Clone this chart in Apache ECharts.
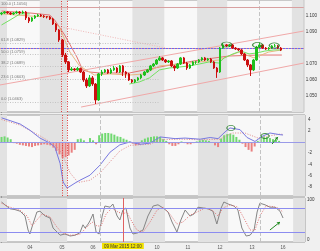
<!DOCTYPE html>
<html><head><meta charset="utf-8">
<script src="https://cdn.jsdelivr.net/npm/echarts@6/dist/echarts.min.js"></script>
<style>html,body{margin:0;padding:0;background:#f0f0f0}#c{width:320px;height:251px}</style>
</head><body><div id="c"></div>
<script>
// ---- price candles (bar index 0..92) ----
const opens = [1.1013,1.1019,1.1025,1.1019,1.1013,1.1019,1.1025,1.1019,1.1025,1.0988,
1.0969,1.0988,1.1000,1.1006,1.1000,1.0996,1.0994,1.0981,1.0950,1.0913,
1.0850,1.0756,1.0713,1.0663,1.0669,1.0663,1.0672,1.0650,1.0600,1.0563,
1.0613,1.0575,1.0475,1.0638,1.0650,1.0663,1.0644,1.0663,1.0675,1.0650,
1.0688,1.0650,1.0638,1.0600,1.0588,1.0600,1.0613,1.0631,1.0650,1.0663,
1.0688,1.0700,1.0725,1.0738,1.0725,1.0713,1.0719,1.0688,1.0675,1.0700,
1.0738,1.0706,1.0675,1.0694,1.0713,1.0713,1.0725,1.0738,1.0725,1.0731,
1.0713,1.0675,1.0650,1.0800,1.0819,1.0813,1.0819,1.0800,1.0794,1.0788,
1.0763,1.0725,1.0694,1.0663,1.0725,1.0806,1.0819,1.0800,1.0794,1.0800,
1.0813,1.0813,1.0800];
const closes = [1.1019,1.1025,1.1019,1.1013,1.1019,1.1025,1.1019,1.1025,1.0988,1.0969,
1.0988,1.1000,1.1006,1.1000,1.0996,1.0994,1.0981,1.0950,1.0913,1.0850,
1.0756,1.0713,1.0663,1.0669,1.0663,1.0672,1.0650,1.0600,1.0563,1.0613,
1.0575,1.0475,1.0638,1.0650,1.0663,1.0644,1.0663,1.0675,1.0650,1.0688,
1.0650,1.0638,1.0600,1.0588,1.0600,1.0613,1.0631,1.0650,1.0663,1.0688,
1.0700,1.0725,1.0738,1.0725,1.0713,1.0719,1.0688,1.0675,1.0700,1.0738,
1.0706,1.0675,1.0694,1.0713,1.0713,1.0725,1.0738,1.0725,1.0731,1.0713,
1.0675,1.0650,1.0800,1.0819,1.0813,1.0819,1.0800,1.0794,1.0788,1.0763,
1.0725,1.0694,1.0663,1.0725,1.0806,1.0819,1.0800,1.0794,1.0800,1.0813,
1.0813,1.0800,1.0788];
const lows = [1.1005,1.1013,1.1013,1.1006,1.1006,1.1013,1.1010,1.1013,1.0975,1.0956,
1.0963,1.0981,1.0994,1.0994,1.0988,1.0985,1.0975,1.0944,1.0900,1.0838,
1.0744,1.0700,1.0650,1.0656,1.0656,1.0656,1.0644,1.0588,1.0550,1.0556,
1.0563,1.0450,1.0469,1.0625,1.0644,1.0638,1.0638,1.0656,1.0644,1.0644,
1.0625,1.0613,1.0594,1.0581,1.0581,1.0594,1.0606,1.0625,1.0644,1.0656,
1.0681,1.0694,1.0719,1.0719,1.0706,1.0706,1.0681,1.0656,1.0669,1.0694,
1.0700,1.0663,1.0669,1.0688,1.0700,1.0706,1.0719,1.0719,1.0719,1.0706,
1.0669,1.0613,1.0644,1.0794,1.0806,1.0806,1.0794,1.0788,1.0781,1.0756,
1.0719,1.0681,1.0625,1.0656,1.0719,1.0800,1.0794,1.0788,1.0788,1.0794,
1.0806,1.0794,1.0781];
const highs = [1.1025,1.1031,1.1031,1.1025,1.1025,1.1033,1.1031,1.1034,1.1031,1.0994,
1.0994,1.1006,1.1013,1.1013,1.1006,1.1000,1.1000,1.0988,1.0956,1.0919,
1.0856,1.0769,1.0719,1.0681,1.0675,1.0681,1.0678,1.0656,1.0613,1.0631,
1.0625,1.0581,1.0644,1.0663,1.0669,1.0669,1.0675,1.0688,1.0681,1.0694,
1.0694,1.0656,1.0644,1.0606,1.0606,1.0619,1.0638,1.0656,1.0669,1.0694,
1.0706,1.0731,1.0750,1.0744,1.0731,1.0725,1.0725,1.0694,1.0706,1.0744,
1.0744,1.0713,1.0700,1.0719,1.0719,1.0731,1.0744,1.0744,1.0738,1.0738,
1.0719,1.0681,1.0806,1.0831,1.0825,1.0825,1.0825,1.0806,1.0800,1.0794,
1.0769,1.0731,1.0700,1.0731,1.0813,1.0831,1.0825,1.0806,1.0806,1.0819,
1.0825,1.0819,1.0806];

// ---- moving averages [barIndex, price] ----
const maGreenA = [[0,1.0944],[2.8,1.0975],[6.1,1.1013],[9.3,1.1013]];
const maGreenB = [[42.1,1.0575],[45.4,1.0588],[48.7,1.0613],[52,1.0663],[55.2,1.0675],[58.5,1.0681],[61.8,1.0688],[65.1,1.0700],[68.4,1.0713],[71.6,1.0706],[73.3,1.0738],[76.2,1.0763],[78.8,1.0781],[81.5,1.0763],[84.1,1.0769],[86.7,1.0781],[89.7,1.0788],[92.3,1.0788]];
const maOrange = [[0,1.1013],[9.3,1.1000],[15.9,1.0994],[19.2,1.0925],[22.5,1.0775],[25.7,1.0688],[30.6,1.0631],[35.6,1.0638],[42.1,1.0631],[47,1.0638],[52,1.0688],[58.5,1.0700],[65.1,1.0713],[71.6,1.0725],[78.2,1.0775],[83.1,1.0738],[88,1.0775],[92.3,1.0788]];
const maRed = [[0,1.1031],[9.3,1.1019],[15.9,1.1006],[17.5,1.0975],[20.8,1.0881],[24.8,1.0744],[26.7,1.0663],[29,1.0650],[32.3,1.0644],[42.1,1.0644],[52,1.0681],[65.1,1.0725],[74.9,1.0750],[84.7,1.0756],[92.3,1.0756]];

// ---- drawn objects (bar index, price) ----
const fibPct = ['100.0','61.8','50.0','38.2','23.6','0.0'];
const fibLevels = [1.1056,1.0829,1.0759,1.0689,1.0603,1.0463];
const channelUpper = [[-0.5,1.0569],[99.5,1.0906]];
const channelLower = [[26.2,1.0431],[99.5,1.0706]];
const trendDiag = [[18,1.0938],[54,1.0800]];
const blueLevel = 1.0819;
const redDotLevel = 1.0800;
const priceCircles = [[74.1,1.0822],[84.3,1.0819],[89.8,1.0816]];

// ---- MACD panel ----
const macdHist = [0.9,1.0,0.8,0.5,-0.2,-0.3,-0.5,-0.6,-0.7,-0.8,
-0.9,-0.7,-0.6,-0.5,-0.4,-0.5,-0.6,-1.0,-1.6,-2.2,
-2.8,-2.7,-2.4,-1.9,-1.4,0.5,0.6,0.3,-0.2,0.7,
0.3,-0.4,1.2,1.5,1.6,1.6,1.5,1.3,1.0,0.9,
0.6,0.4,0.1,-0.3,-0.6,-0.5,0.3,0.6,0.8,0.9,
1.0,1.0,0.9,0.5,0.2,-0.4,-0.7,-0.7,-0.4,0.1,
-0.2,-0.4,-0.4,-0.2,0.1,0.3,0.4,0.3,0.2,-0.1,
-0.6,-0.9,0.6,1.2,1.4,1.5,1.3,0.9,0.4,-0.3,
-0.9,-1.4,-1.7,-0.8,0.2,0.8,1.0,0.9,0.7,0.5,
0.4,0.2,-0.1];
const macdLine = [[0,4.3],[2.8,3.8],[6.1,3.2],[9.3,2.1],[12.6,0.7],[15.9,-0.2],[17.5,-0.9],[19.2,-3.8],[20.2,-7.1],[21.5,-8.2],[24.1,-7.3],[25.7,-6.8],[29,-5.9],[32.3,-4.1],[35.6,-1.8],[38.8,-0.5],[42.1,0],[45.4,-0.4],[48.7,-0.2],[52,0.9],[56.9,0.6],[60.2,0.7],[65.1,0.5],[68.4,0.8],[71,0.6],[73.3,1.8],[74.9,2.5],[78.2,2.2],[80.5,0.8],[83.1,0.1],[85.4,1.0],[88,1.6],[91.3,1.3],[92.3,1.25]];
const macdSignal = [[0,4.0],[6.1,3.0],[12.6,1.1],[17.5,-0.5],[19.8,-2.0],[22.5,-5.5],[25.1,-7.2],[29,-6.8],[32.3,-5.5],[35.6,-3.5],[38.8,-1.6],[42.1,-0.6],[48.7,-0.4],[52,0.4],[58.5,0.5],[65.1,0.4],[71.6,0.5],[75.6,1.6],[79.8,1.6],[84.1,0.7],[88,1.1],[91.3,1.4],[92.3,1.35]];
const macdTicks = [4,2,-2,-4,-6,-8];
const macdCircles = [[75.2,2.5],[86.4,1.07]];
const macdArrow = [[88.7,-0.36],[90.6,0.9]];

// ---- Stochastic panel ----
const stochK = [[0,95],[1.1,88],[2.8,78],[4.4,76],[6.1,72],[7.7,60],[8.7,25],[9.3,15],[10.3,40],[11.6,70],[12.6,72],[14.3,60],[15.9,55],[16.9,30],[18.2,20],[19.2,12],[20.8,15],[22.5,10],[24.1,12],[25.7,18],[26.7,38],[27.4,30],[28.4,40],[29,48],[30,65],[31,20],[32,15],[33,60],[33.9,85],[35.6,82],[36.5,90],[37.9,60],[38.8,50],[39.8,75],[40.8,80],[42.1,30],[43.1,15],[44.7,18],[46.4,25],[48,60],[49.7,85],[51.3,88],[53,80],[54.6,70],[55.9,45],[57.5,20],[58.8,50],[60.2,75],[61.8,60],[63.1,65],[64.4,82],[66.1,80],[67.7,78],[69.3,72],[70.6,40],[72,80],[72.9,95],[74.3,90],[76.2,85],[77.5,75],[78.8,30],[80.2,10],[81.5,12],[82.8,25],[83.8,70],[84.7,92],[86.4,88],[88,82],[89.7,82],[91.3,72],[92.3,55]];
const stochD = [[0,92],[2.8,82],[6.1,74],[8.4,60],[10,35],[11.6,50],[13.3,65],[15.9,58],[17.9,35],[19.8,18],[22.5,12],[25.7,14],[27.7,30],[29.7,45],[31.3,35],[32.6,35],[34.3,65],[36.2,80],[38.2,70],[39.8,65],[41.1,70],[42.8,45],[44.4,25],[46.4,20],[48.7,45],[51,75],[53,82],[55.2,65],[57.5,40],[59.5,45],[61.8,62],[64.1,70],[66.7,80],[69,75],[71,60],[72.6,80],[74.9,88],[77.5,82],[79.8,50],[81.5,25],[83.1,25],[84.7,60],[86.7,85],[88.7,84],[90.6,80],[92.3,70]];
const stochLevels = [80,20];
const stochArrow = [[88,25],[91.3,45]];

// ---- time axis ----
const dayTicks = [9.3,19.8,30,51,61.1,71.6,82.1,92.3];
const dayLabels = ['04','05','06','10','11','12','13','16'];
const crossTime = 39.8;
const crossLabel = '09 Mar 2015 12:00';
const crossBars = [19.8,21.5];
const sessionLines = [32.3,84.7];
const bandStarts = [-0.5,12.6,43.1,64.4,95.6];
const bandEnds = [1.8,21.5,53.6,74.3,99.5];
const priceTicks = [1.05,1.06,1.07,1.09,1.10];

const chart = echarts.init(document.getElementById('c'));
const N = 100;
const cats = Array.from({length:N},(_,i)=>String(i));
const candleData = opens.map((o,i)=>[o,closes[i],lows[i],highs[i]]);
const font = 'Liberation Sans';
const bandPairs = bandStarts.map((s,i)=>[{xAxis:s},{xAxis:bandEnds[i]}]);

function bg(xi, yi, extraLines){
  return {type:'line', xAxisIndex:xi, yAxisIndex:yi, data:[], silent:true, z:0,
    markArea:{silent:true, itemStyle:{color:'#e2e2e2'}, data:bandPairs},
    markLine:{silent:true, symbol:'none', animation:false,
      data: sessionLines.map(v=>({xAxis:v, lineStyle:{color:'#c4c4c4', type:'dashed', width:1}, label:{show:false}})).concat(extraLines||[])}};
}
function tag(v, text, bgc, bd){
  return {yAxis:v, lineStyle:{opacity:0}, label:{show:true, position:'end', formatter:text, backgroundColor:bgc,
    borderColor:bd||bgc, borderWidth:0.6, padding:[1,1,0,1], fontSize:4.5, color:'#222', distance:2, fontFamily:font}};
}
function line(xi, yi, data, color, width, type, z){
  return {type:'line', xAxisIndex:xi, yAxisIndex:yi, data:data, symbol:'none', silent:true, z:z||3,
    lineStyle:{color:color, width:width, type:type||'solid'}};
}
const vRed = crossBars.map(v=>({xAxis:v, lineStyle:{color:'#e04040', type:[1,1.5], width:1}, label:{show:false}}));

const fibLines = fibLevels.map((lv,i)=>[
  {coord:[-0.5,lv], lineStyle:{color: i===0?'#d8a0a0':'#c4c4c4', type: i===0?'solid':[1,1.5], width:1},
   label:{show:true, position:'insideStartTop', formatter: fibPct[i]+' ('+lv.toFixed(4)+')', fontSize:4, color:'#777', fontFamily:font, distance:1}},
  {coord:[i===0?99.5:52, lv]}]);

const option = {
  animation:false,
  backgroundColor:'#f0f0f0',
  textStyle:{fontFamily:font},
  grid:[
    {left:0, right:15, top:0, height:112, show:true, backgroundColor:'#f8f8f8', borderColor:'#999', borderWidth:1},
    {left:0, right:15, top:115, height:81, show:true, backgroundColor:'#f8f8f8', borderColor:'#999', borderWidth:1},
    {left:0, right:15, top:198, height:44, show:true, backgroundColor:'#f8f8f8', borderColor:'#999', borderWidth:1}
  ],
  xAxis:[
    {type:'category', gridIndex:0, data:cats, show:false, boundaryGap:true},
    {type:'value', gridIndex:0, min:-0.5, max:99.5, show:false},
    {type:'category', gridIndex:1, data:cats, show:false, boundaryGap:true},
    {type:'value', gridIndex:1, min:-0.5, max:99.5, show:false},
    {type:'value', gridIndex:2, min:-0.5, max:99.5, splitLine:{show:false}, axisLine:{show:false}, axisTick:{show:false},
      axisLabel:{customValues:dayTicks, formatter:(v)=>{const k=dayTicks.indexOf(v); return k>=0?dayLabels[k]:'';}, fontSize:4.5, color:'#555', margin:3}}
  ],
  yAxis:[
    {type:'value', gridIndex:0, position:'right', min:1.04, max:1.11, splitLine:{show:false},
      axisLine:{show:true, lineStyle:{color:'#555'}}, axisTick:{show:true, length:2, customValues:priceTicks, lineStyle:{color:'#555'}},
      axisLabel:{customValues:priceTicks, formatter:(v)=>v.toFixed(3), fontSize:4.5, color:'#333', margin:2}},
    {type:'value', gridIndex:1, position:'right', min:-9.6, max:4.8, splitLine:{show:false},
      axisLine:{show:true, lineStyle:{color:'#555'}}, axisTick:{show:true, length:2, customValues:macdTicks, lineStyle:{color:'#555'}},
      axisLabel:{customValues:macdTicks, fontSize:4.5, color:'#333', margin:3}},
    {type:'value', gridIndex:2, position:'right', min:-5, max:105, splitLine:{show:false},
      axisLine:{show:true, lineStyle:{color:'#555'}}, axisTick:{show:true, length:2, customValues:[0,100], lineStyle:{color:'#555'}},
      axisLabel:{customValues:[0,100], fontSize:4.5, color:'#333', margin:2}}
  ],
  series:[
    // price panel
    bg(1,0,vRed),
    {type:'line', xAxisIndex:1, yAxisIndex:0, data:[], silent:true, z:2,
      markLine:{silent:true, symbol:'none', data: fibLines.concat([
        {yAxis:blueLevel, lineStyle:{color:'#6a6af0', width:1, type:'solid'}, label:{show:false}},
        {yAxis:redDotLevel, lineStyle:{color:'#ec8a8a', width:1, type:[1,2]}, label:{show:false}}
      ])}},
    line(1,0,channelUpper,'#f0a8a8',1),
    line(1,0,channelLower,'#f0a8a8',1),
    line(1,0,trendDiag,'#f0b8b8',1,[1,1.5]),
    line(1,0,maRed,'#e47474',1),
    line(1,0,maOrange,'#e8b882',1),
    line(1,0,maGreenA,'#74e062',1),
    line(1,0,maGreenB,'#74e062',1),
    {type:'candlestick', xAxisIndex:0, yAxisIndex:0, data:candleData, barWidth:2, z:5, silent:true,
      itemStyle:{color:'#1fc01f', color0:'#cc1010', borderColor:'#1fc01f', borderColor0:'#cc1010', borderWidth:1},
      markLine:{silent:true, symbol:'none', data:[
        tag(fibLevels[0], fibLevels[0].toFixed(4), '#f2e200'),
        tag(closes[closes.length-1], closes[closes.length-1].toFixed(4), '#f0a830'),
        tag(maRed[maRed.length-1][1]-0.0006, (maRed[maRed.length-1][1]-0.0006).toFixed(4), '#ffffff', '#e07070')
      ]}},
    {type:'scatter', xAxisIndex:1, yAxisIndex:0, data:priceCircles, symbol:'circle', symbolSize:[10,5], z:6, silent:true,
      itemStyle:{color:'rgba(0,0,0,0)', borderColor:'#1f7a1f', borderWidth:1}},
    // MACD panel
    bg(3,1,vRed.concat([{yAxis:0, lineStyle:{color:'#9a9ae8', width:1, type:'solid'}, label:{show:false}}])),
    {type:'bar', xAxisIndex:2, yAxisIndex:1, data:macdHist, barWidth:2, z:3, silent:true,
      itemStyle:{color:(p)=>p.value>=0?'#70d870':'#ea8080'},
      markLine:{silent:true, symbol:'none', data:[
        tag(macdHist[macdHist.length-1], macdHist[macdHist.length-1].toFixed(4), '#fbe0e0', '#e07070')]}},
    line(3,1,macdSignal,'#e08a8a',1,[1,1.5],4),
    {type:'line', xAxisIndex:3, yAxisIndex:1, data:macdLine, symbol:'none', silent:true, z:4,
      lineStyle:{color:'#7878e0', width:1},
      markLine:{silent:true, symbol:'none', data:[
        tag(macdLine[macdLine.length-1][1], macdLine[macdLine.length-1][1].toFixed(4), '#fbe0e0', '#e07070')]}},
    {type:'scatter', xAxisIndex:3, yAxisIndex:1, data:macdCircles, symbol:'circle', symbolSize:[8,5], z:6, silent:true,
      itemStyle:{color:'rgba(0,0,0,0)', borderColor:'#1f7a1f', borderWidth:1}},
    {type:'line', xAxisIndex:3, yAxisIndex:1, data:[], silent:true, z:6,
      markLine:{silent:true, symbol:['none','arrow'], symbolSize:3, data:[[
        {coord:macdArrow[0], lineStyle:{color:'#1f8a1f', width:1, type:'solid'}, label:{show:false}},
        {coord:macdArrow[1]}]]}},
    // Stochastic panel
    bg(4,2,stochLevels.map(v=>({yAxis:v, lineStyle:{color:'#8c8cf0', width:1, type:'solid'}, label:{show:false}})).concat([
      {xAxis:crossTime, lineStyle:{color:'#e06060', width:1, type:'solid'},
        label:{show:true, position:'start', formatter:crossLabel, backgroundColor:'#f2e200', padding:[1,2,0,2], fontSize:4.5, color:'#333', distance:1}}
    ])),
    line(4,2,stochD,'#e07070',1,[1,1.5],4),
    {type:'line', xAxisIndex:4, yAxisIndex:2, data:stochK, symbol:'none', silent:true, z:3,
      lineStyle:{color:'#858585', width:1},
      markLine:{silent:true, symbol:'none', data:[
        tag(stochK[stochK.length-1][1], stochK[stochK.length-1][1].toFixed(3), '#fbe0e0', '#e07070'),
        tag(stochD[stochD.length-1][1], stochD[stochD.length-1][1].toFixed(3), '#eeeeee', '#aaaaaa'),
        tag(stochLevels[0], String(stochLevels[0]), '#dedefa', '#8c8cf0'),
        tag(stochLevels[1], String(stochLevels[1]), '#dedefa', '#8c8cf0')
      ]}},
    {type:'line', xAxisIndex:4, yAxisIndex:2, data:[], silent:true, z:6,
      markLine:{silent:true, symbol:['none','arrow'], symbolSize:3, data:[[
        {coord:stochArrow[0], lineStyle:{color:'#1f8a1f', width:1, type:'solid'}, label:{show:false}},
        {coord:stochArrow[1]}]]}}
  ]
};
chart.setOption(option);
</script></body></html>
